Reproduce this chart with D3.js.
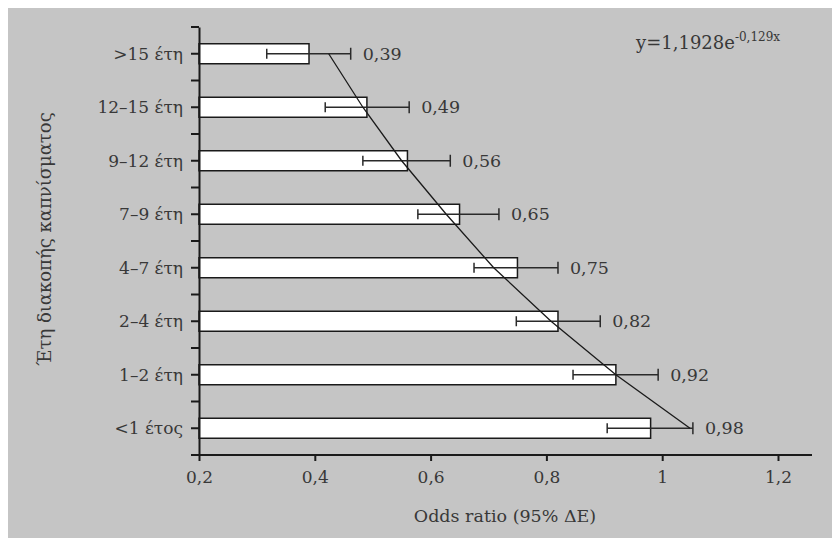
<!DOCTYPE html>
<html lang="el">
<head>
    <meta charset="UTF-8">
    <title>Odds ratio</title>
    <script src="https://cdn.jsdelivr.net/npm/d3@7"></script>
    <style>
        body{
            margin: 0;
            background: #ffffff;
        }
        svg{
            display: block;
            font-family: "DejaVu Serif", serif;
        }
        .bar{
            fill: #ffffff;
            stroke: #1a1a1a;
            stroke-width: 1.5px;
        }
        .err{
            stroke: #2a2a2a;
            stroke-width: 1.5px;
            fill: none;
        }
        .trend{
            stroke: #1a1a1a;
            stroke-width: 1.3px;
            fill: none;
        }
        .axis path, .axis line{
            stroke: #1a1a1a;
            stroke-width: 2px;
        }
        .axis text{
            font-family: "DejaVu Serif", serif;
            font-size: 17px;
            fill: #383838;
        }
    </style>
</head>
<body>
<script>
    // data (top to bottom)
    const categories = [">15 έτη", "12–15 έτη", "9–12 έτη", "7–9 έτη", "4–7 έτη", "2–4 έτη", "1–2 έτη", "<1 έτος"];
    const oddsRatio  = [0.39, 0.49, 0.56, 0.65, 0.75, 0.82, 0.92, 0.98];
    const ciLow      = [0.317, 0.418, 0.483, 0.578, 0.675, 0.748, 0.846, 0.905];
    const ciHigh     = [0.462, 0.563, 0.634, 0.718, 0.820, 0.893, 0.993, 1.053];
    const trendVals  = [0.424, 0.483, 0.55, 0.627, 0.709, 0.808, 0.92, 1.048];
    const xTicks     = [0.2, 0.4, 0.6, 0.8, 1, 1.2];
    const xTickLabels = ["0,2", "0,4", "0,6", "0,8", "1", "1,2"];

    const rows = categories.map((c, i) => ({
        cat: c, or: oddsRatio[i], lo: ciLow[i], hi: ciHigh[i], trend: trendVals[i]
    }));

    const width = 832, height = 538;

    const svg = d3.select("body").append("svg")
        .attr("width", width)
        .attr("height", height);

    // grey panel
    svg.append("rect")
        .attr("x", 8).attr("y", 8)
        .attr("width", width - 8).attr("height", height - 8)
        .attr("fill", "#c5c5c5");

    const xScale = d3.scaleLinear()
        .domain([0.2, 1.2])
        .range([199, 778]);

    const yBand = d3.scaleBand()
        .domain(categories)
        .range([27, 455]);

    const yMid = d => yBand(d) + yBand.bandwidth() / 2;

    // bars
    svg.selectAll(".bar")
        .data(rows)
        .enter()
        .append("rect")
        .attr("class", "bar")
        .attr("x", xScale(0.2))
        .attr("y", d => yMid(d.cat) - 10)
        .attr("width", d => xScale(d.or) - xScale(0.2))
        .attr("height", 20);

    // error bars
    const err = svg.append("g").selectAll("g")
        .data(rows)
        .enter()
        .append("g")
        .attr("class", "err");

    err.append("line")
        .attr("x1", d => xScale(d.lo))
        .attr("x2", d => xScale(d.hi))
        .attr("y1", d => yMid(d.cat))
        .attr("y2", d => yMid(d.cat));
    err.append("line")
        .attr("x1", d => xScale(d.hi))
        .attr("x2", d => xScale(d.hi))
        .attr("y1", d => yMid(d.cat) - 6)
        .attr("y2", d => yMid(d.cat) + 6);
    err.append("line")
        .attr("x1", d => xScale(d.lo))
        .attr("x2", d => xScale(d.lo))
        .attr("y1", d => yMid(d.cat) - 5)
        .attr("y2", d => yMid(d.cat) + 5);

    // value labels
    svg.append("g").selectAll("text")
        .data(rows)
        .enter()
        .append("text")
        .attr("x", d => xScale(d.hi) + 12)
        .attr("y", d => yMid(d.cat) + 6)
        .attr("font-size", "17.5px")
        .attr("fill", "#383838")
        .text(d => d.or.toFixed(2).replace(".", ","));

    // exponential trend line
    const trendLine = d3.line()
        .x(d => xScale(d.trend))
        .y(d => yMid(d.cat));

    svg.append("path")
        .datum(rows)
        .attr("class", "trend")
        .attr("d", trendLine);

    // axes
    const xAxis = d3.axisBottom(xScale)
        .tickValues(xTicks)
        .tickFormat((d, i) => xTickLabels[i])
        .tickSize(6)
        .tickSizeOuter(0)
        .tickPadding(10);

    const gx = svg.append("g")
        .attr("class", "axis")
        .attr("transform", `translate(0, 455)`)
        .call(xAxis);
    gx.select(".domain").attr("d", `M${xScale(0.2) - 8},0H812`);
    gx.selectAll(".tick line").attr("stroke-width", 1.5);

    const yAxis = d3.axisLeft(yBand)
        .tickSize(8)
        .tickSizeOuter(0)
        .tickPadding(8);

    const gy = svg.append("g")
        .attr("class", "axis")
        .attr("transform", `translate(199, 0)`)
        .call(yAxis);
    gy.selectAll(".tick text").attr("font-size", "18px").attr("dy", "0.35em");
    gy.selectAll(".tick line").attr("stroke-width", 1.5);

    // minor ticks between categories
    const bounds = categories.map(c => yBand(c)).concat([455]);
    gy.selectAll(".minor")
        .data(bounds)
        .enter()
        .append("line")
        .attr("x1", -8).attr("x2", 0)
        .attr("y1", d => d).attr("y2", d => d)
        .attr("stroke", "#1a1a1a")
        .attr("stroke-width", 1.5);

    // axis titles
    svg.append("text")
        .attr("x", 505)
        .attr("y", 522)
        .attr("text-anchor", "middle")
        .attr("font-size", "17.5px")
        .attr("fill", "#383838")
        .text("Odds ratio (95% ΔΕ)");

    svg.append("text")
        .attr("transform", "translate(51, 239) rotate(-90)")
        .attr("text-anchor", "middle")
        .attr("font-size", "18px")
        .attr("fill", "#383838")
        .text("Έτη διακοπής καπνίσματος");

    // equation
    const eq = svg.append("text")
        .attr("x", 636)
        .attr("y", 49)
        .attr("font-size", "18px")
        .attr("fill", "#383838");
    eq.append("tspan").text("y=1,1928e");
    eq.append("tspan")
        .attr("font-size", "12px")
        .attr("dy", -8)
        .text("-0,129x");
</script>
</body>
</html>
